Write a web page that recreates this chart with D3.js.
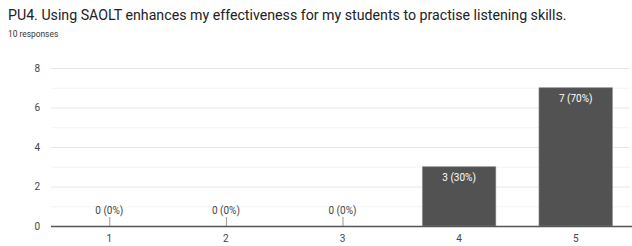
<!DOCTYPE html>
<html>
<head>
<meta charset="utf-8">
<script src="https://cdn.jsdelivr.net/npm/d3@7"></script>
<style>
  body { margin: 0; background: #fff; }
  svg { display: block; font-family: Roboto, Arial, sans-serif; }
</style>
</head>
<body>
<div id="grafico"></div>
<script>
const titulo = "PU4. Using SAOLT enhances my effectiveness for my students to practise listening skills.";
const subtitulo = "10 responses";
const categorias = ["1", "2", "3", "4", "5"];
const valores = [0, 0, 0, 3, 7];
const total = 10;
const ticksY = [0, 2, 4, 6, 8];
const ticksMenores = [1, 3, 5, 7];

const width = 632, height = 246;
const svg = d3.select("#grafico").append("svg")
  .attr("width", width)
  .attr("height", height);

svg.append("text")
  .attr("x", 8).attr("y", 20)
  .style("font-size", "14.2px")
  .attr("fill", "#202124")
  .text(titulo);

svg.append("text")
  .attr("x", 8).attr("y", 37)
  .style("font-size", "8.4px")
  .attr("fill", "#333")
  .text(subtitulo);

const margin = { left: 51, right: 634, top: 68, bottom: 226 };

const x = d3.scaleBand()
  .domain(categorias)
  .range([margin.left, margin.right])
  .paddingInner(0.37)
  .paddingOuter(0.185);

const y = d3.scaleLinear()
  .domain([0, 8])
  .range([margin.bottom, margin.top]);

// lineas de cuadricula
svg.append("g").selectAll("line")
  .data(ticksMenores)
  .enter().append("line")
  .attr("x1", margin.left).attr("x2", 630)
  .attr("y1", d => y(d) + 0.5).attr("y2", d => y(d) + 0.5)
  .attr("stroke", "#f3f3f3");

svg.append("g").selectAll("line")
  .data(ticksY.slice(1))
  .enter().append("line")
  .attr("x1", margin.left).attr("x2", 630)
  .attr("y1", d => y(d) + 0.5).attr("y2", d => y(d) + 0.5)
  .attr("stroke", "#e6e6e6");

// eje Y
const ejeY = svg.append("g")
  .attr("transform", `translate(${margin.left},0)`)
  .call(d3.axisLeft(y).tickValues(ticksY).tickSize(0).tickPadding(11));
ejeY.select(".domain").remove();
ejeY.selectAll("text")
  .style("font-size", "10px")
  .style("font-family", "Roboto, Arial, sans-serif")
  .attr("fill", "#444");

// barras
const datos = categorias.map((c, i) => ({ cat: c, val: valores[i] }));

svg.selectAll(".bar")
  .data(datos.filter(d => d.val > 0))
  .enter().append("rect")
  .attr("class", "bar")
  .attr("x", d => x(d.cat))
  .attr("y", d => y(d.val))
  .attr("width", x.bandwidth())
  .attr("height", d => margin.bottom - y(d.val))
  .attr("fill", "#525252")
  .attr("stroke", "#8a8a8a")
  .attr("stroke-width", 0.6);

// marcas para valores cero
svg.selectAll(".cero")
  .data(datos.filter(d => d.val === 0))
  .enter().append("line")
  .attr("class", "cero")
  .attr("x1", d => x(d.cat) + x.bandwidth() / 2 + 0.5)
  .attr("x2", d => x(d.cat) + x.bandwidth() / 2 + 0.5)
  .attr("y1", margin.bottom).attr("y2", margin.bottom - 9)
  .attr("stroke", "#999");

// etiquetas
svg.selectAll(".etiqueta")
  .data(datos)
  .enter().append("text")
  .attr("class", "etiqueta")
  .attr("x", d => x(d.cat) + x.bandwidth() / 2)
  .attr("y", d => d.val > 0 ? y(d.val) + 14 : margin.bottom - 12)
  .attr("text-anchor", "middle")
  .style("font-size", "10px")
  .attr("fill", d => d.val > 0 ? "#fff" : "#444")
  .text(d => `${d.val} (${Math.round(d.val / total * 100)}%)`);

// eje X
svg.append("line")
  .attr("x1", margin.left).attr("x2", 632)
  .attr("y1", margin.bottom + 0.5).attr("y2", margin.bottom + 0.5)
  .attr("stroke", "#555")
  .attr("stroke-width", 1.3);

const ejeX = svg.append("g")
  .attr("transform", `translate(0,${margin.bottom})`)
  .call(d3.axisBottom(x).tickSize(0).tickPadding(9));
ejeX.select(".domain").remove();
ejeX.selectAll("text")
  .style("font-size", "10px")
  .style("font-family", "Roboto, Arial, sans-serif")
  .attr("fill", "#444");
</script>
</body>
</html>
